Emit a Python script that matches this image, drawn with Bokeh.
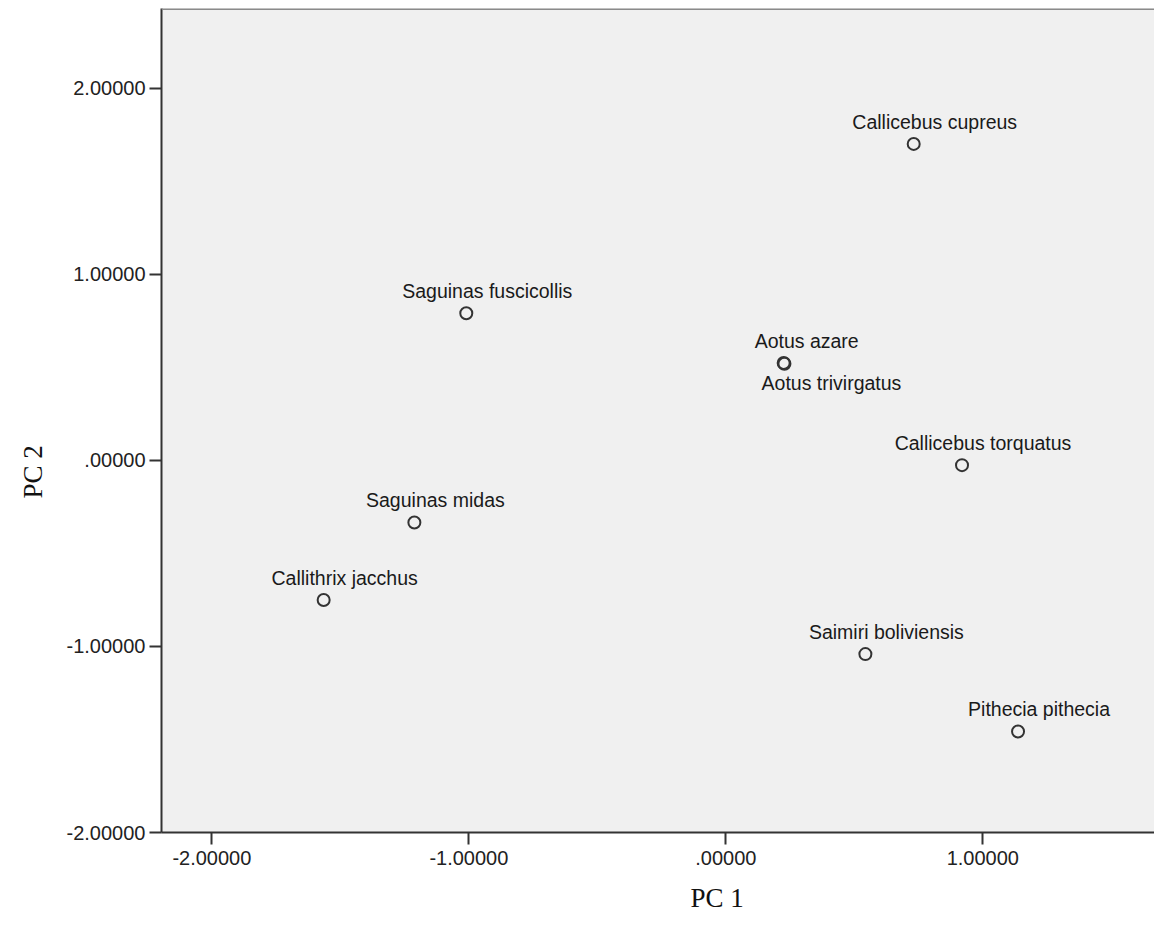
from bokeh.plotting import figure
from bokeh.models import FixedTicker, ColumnDataSource, Span, Title, Range1d
from bokeh.core.properties import value
from bokeh.embed import file_html
from bokeh.resources import INLINE

# ---- data ----
species = ["Callicebus cupreus", "Saguinas fuscicollis", "Aotus azare", "Aotus trivirgatus",
           "Callicebus torquatus", "Saguinas midas", "Callithrix jacchus",
           "Saimiri boliviensis", "Pithecia pithecia"]
pc1 = [0.731, -1.010, 0.225, 0.228, 0.919, -1.212, -1.565, 0.543, 1.137]
pc2 = [1.702, 0.792, 0.524, 0.520, -0.025, -0.333, -0.750, -1.041, -1.457]

x_ticks = [-2, -1, 0, 1]
x_tick_labels = ["-2.00000", "-1.00000", ".00000", "1.00000"]
y_ticks = [-2, -1, 0, 1, 2]
y_tick_labels = ["-2.00000", "-1.00000", ".00000", "1.00000", "2.00000"]
x_title = "PC 1"
y_title = "PC 2"

# label placement (screen pixels), kept separate from data
label_dx = [21, 21, 23, 47, 21, 21, 21, 21, 21]
label_dy = [-22, -22, -22, 19, -22, -22, -22, -22, -22]

src = ColumnDataSource(dict(x=pc1, y=pc2, name=species, dx=label_dx, dy=label_dy))

p = figure(width=1154, height=926, output_backend="svg", toolbar_location=None,
           x_range=Range1d(-2.196, 1.668), y_range=Range1d(-2.0, 2.43),
           min_border_left=161, min_border_right=0, min_border_top=8, min_border_bottom=94)
p.background_fill_color = "#F0F0F0"
p.border_fill_color = "white"
p.outline_line_color = None
p.xgrid.visible = False
p.ygrid.visible = False

for ax, ticks, labels in ((p.xaxis[0], x_ticks, x_tick_labels), (p.yaxis[0], y_ticks, y_tick_labels)):
    ax.ticker = FixedTicker(ticks=ticks)
    ax.major_label_overrides = {t: l for t, l in zip(ticks, labels)}
    ax.minor_tick_line_color = None
    ax.major_tick_in = 0
    ax.major_tick_out = 12
    ax.major_tick_line_width = 2
    ax.major_tick_line_color = "#333333"
    ax.axis_line_width = 2
    ax.axis_line_color = "#333333"
    ax.major_label_text_font = "Liberation Sans"
    ax.major_label_text_font_size = "20px"
    ax.major_label_text_color = "#222222"
p.xaxis.major_label_standoff = 6
p.yaxis.major_label_standoff = 4

# top border line
p.add_layout(Span(location=2.43, dimension="width", line_color="#8a8a8a", line_width=3))

p.scatter("x", "y", source=src, size=12, fill_color=None, line_color="#333333", line_width=2)
p.text("x", "y", text="name", source=src, x_offset="dx", y_offset="dy",
       text_align="center", text_baseline="alphabetic",
       text_font=value("Liberation Sans"), text_font_size="19.5px", text_color="#1a1a1a")

p.add_layout(Title(text=x_title, align="left", offset=529, text_font="Liberation Serif",
                   text_font_size="27px", text_font_style="normal", text_color="#111111",
                   standoff=27), "below")
p.add_layout(Title(text=y_title, align="left", offset=334, text_font="Liberation Serif",
                   text_font_size="27px", text_font_style="normal", text_color="#111111",
                   standoff=31), "left")

open("out.html", "w").write(file_html(p, INLINE))
